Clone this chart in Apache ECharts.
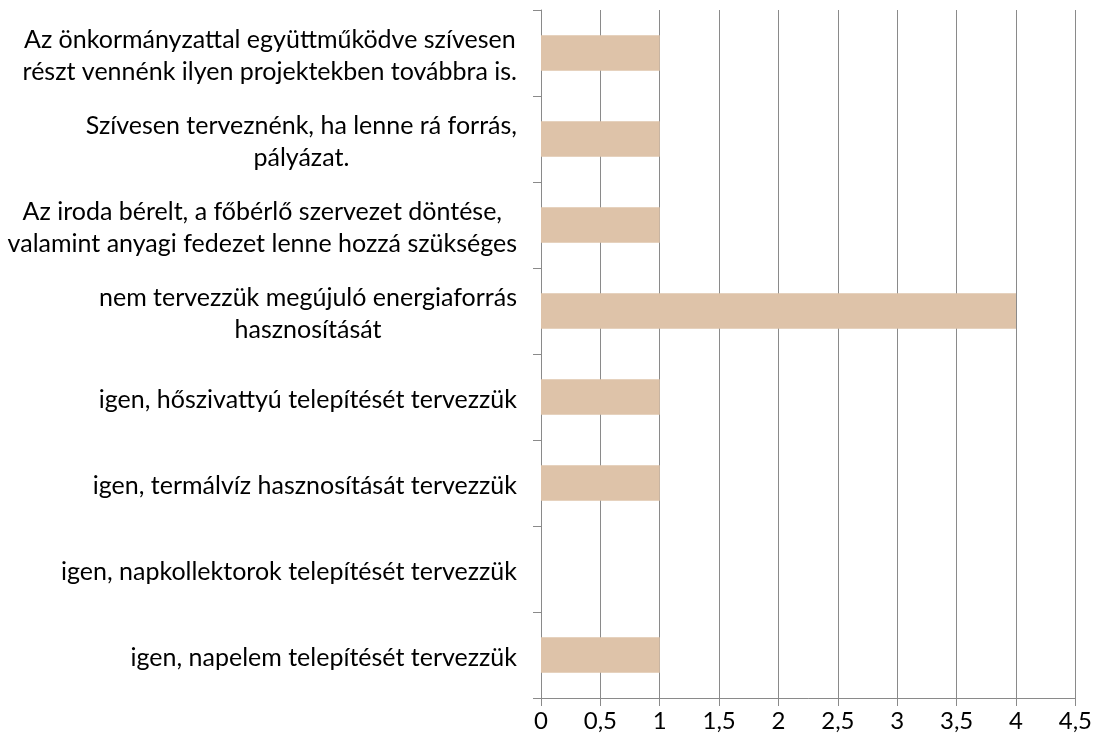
<!DOCTYPE html>
<html>
<head>
<meta charset="utf-8">
<script src="https://cdn.jsdelivr.net/npm/echarts@6/dist/echarts.min.js"></script>
<style>
  html, body { margin: 0; padding: 0; background: #fff; }
  #chart { width: 1095px; height: 749px; }
</style>
</head>
<body>
<div id="chart"></div>
<script>
// Answer options, listed bottom to top on the category axis
const categories = [
  'igen, napelem telepítését tervezzük',
  'igen, napkollektorok telepítését tervezzük',
  'igen, termálvíz hasznosítását tervezzük',
  'igen, hőszivattyú telepítését tervezzük',
  'nem tervezzük megújuló energiaforrás\nhasznosítását',
  'Az iroda bérelt, a főbérlő szervezet döntése,\nvalamint anyagi fedezet lenne hozzá szükséges',
  'Szívesen terveznénk, ha lenne rá forrás,\npályázat.',
  'Az önkormányzattal együttműködve szívesen\nrészt vennénk ilyen projektekben továbbra is.'
];
// Number of responses per option
const counts = [1, 0, 1, 1, 4, 1, 1, 1];
// Value axis range
const xMin = 0;
const xMax = 4.5;
const xStep = 0.5;

const fontFamily = 'Lato, "Open Sans", sans-serif';
const labelSize = 25;
const tickSize = 24;
const gray = '#8a8a8a';

const chart = echarts.init(document.getElementById('chart'));
chart.setOption({
  animation: false,
  grid: { left: 541, right: 19, top: 10, bottom: 51, containLabel: false },
  xAxis: {
    type: 'value',
    min: xMin,
    max: xMax,
    interval: xStep,
    axisLine: { show: true, lineStyle: { color: gray, width: 1 } },
    axisTick: { show: true, length: 8, lineStyle: { color: gray } },
    splitLine: { show: true, lineStyle: { color: gray, width: 1 } },
    axisLabel: {
      margin: 11,
      color: '#000',
      fontSize: tickSize,
      fontFamily: fontFamily,
      formatter: v => String(v).replace('.', ',')
    }
  },
  yAxis: {
    type: 'category',
    data: categories,
    axisLine: { show: true, lineStyle: { color: gray, width: 1 } },
    axisTick: { show: true, length: 8, lineStyle: { color: gray } },
    axisLabel: {
      margin: 24,
      color: '#000',
      fontSize: labelSize,
      fontFamily: fontFamily,
      lineHeight: 32,
      padding: [5, 0, 0, 0],
      // each line is centred within the right-aligned label block
      formatter: v => v.split('\n').map(l => '{c|' + l + '}').join('\n'),
      rich: {
        c: { align: 'center', fontSize: labelSize, fontFamily: fontFamily, lineHeight: 32, color: '#000' }
      }
    }
  },
  series: [{
    type: 'bar',
    data: counts,
    barCategoryGap: '59%',
    itemStyle: { color: '#dec3a9' }
  }]
});
</script>
</body>
</html>
